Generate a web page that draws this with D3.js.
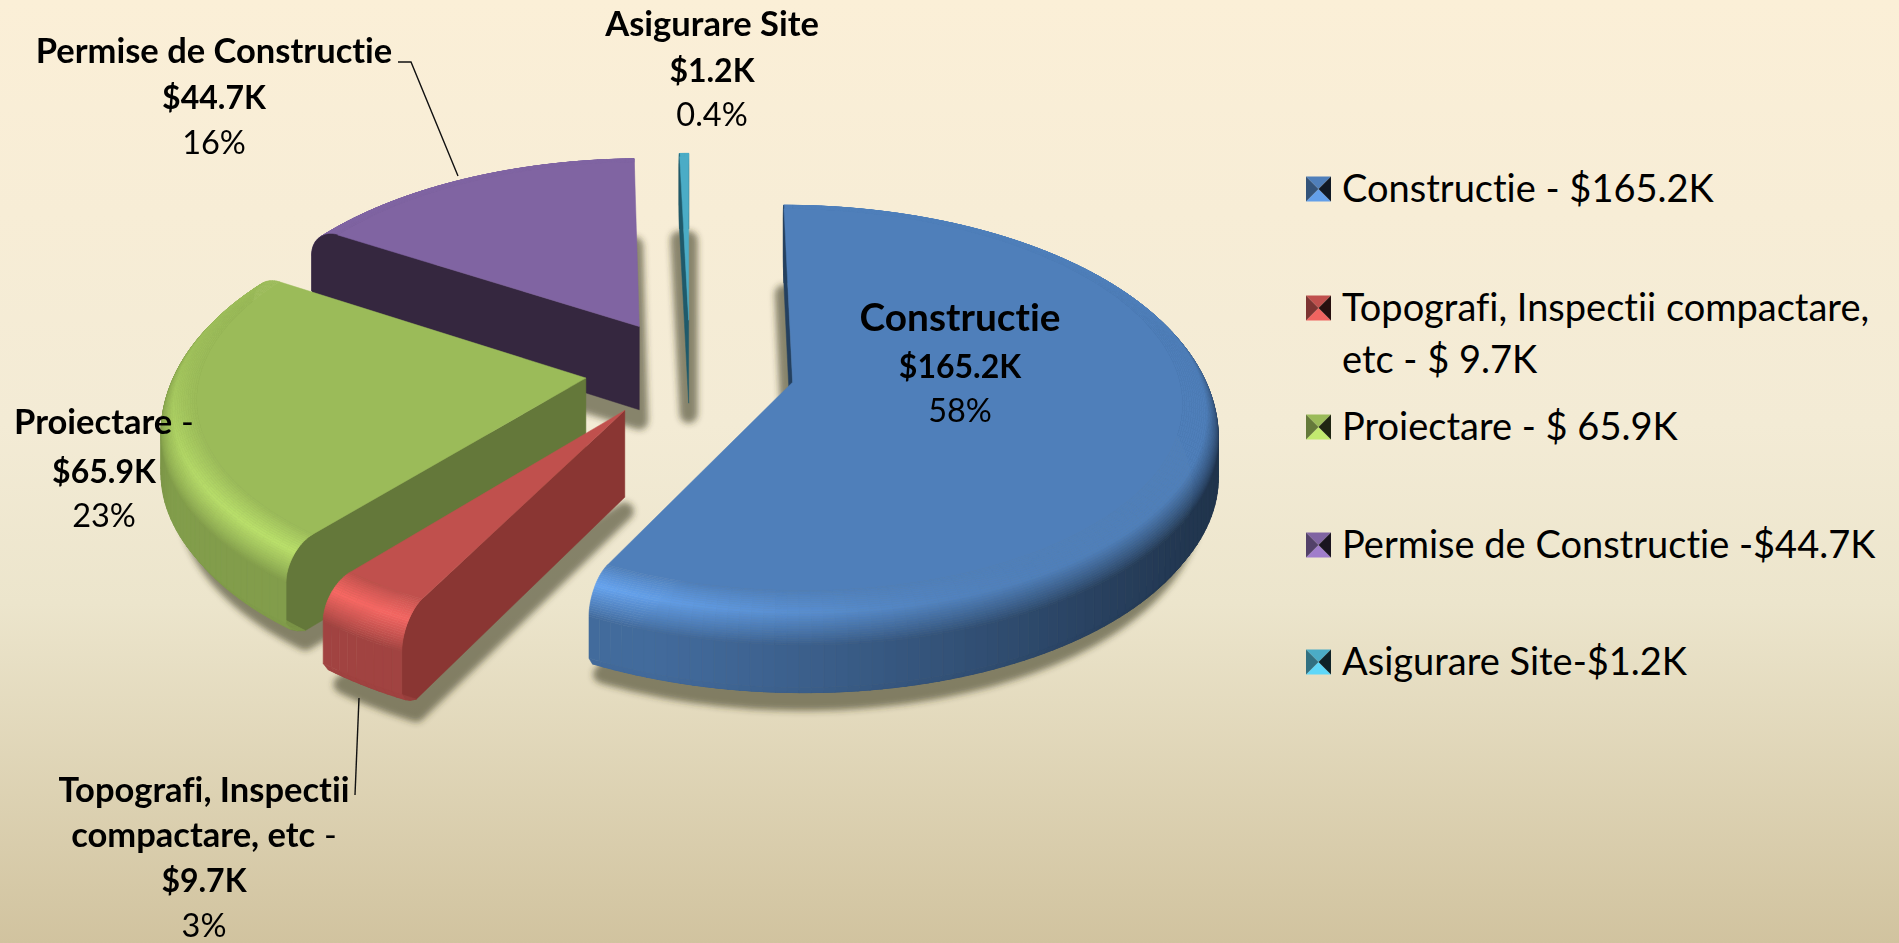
<!DOCTYPE html>
<html>
<head>
<meta charset="utf-8">
<script src="https://cdn.jsdelivr.net/npm/d3@7"></script>
<style>
  html, body { margin: 0; padding: 0; background: #f3ebd5; overflow: hidden; }
  text { font-family: Lato, "Open Sans", sans-serif; fill: #000; font-variant-ligatures: none; }
</style>
</head>
<body>
<div id="pie"></div>
<script>
// Chart values
var categories = ["Constructie", "Topografi, Inspectii compactare, etc", "Proiectare", "Permise de Constructie", "Asigurare Site"];
var values = [165.2, 9.7, 65.9, 44.7, 1.2];
var amounts = ["$165.2K", "$9.7K", "$65.9K", "$44.7K", "$1.2K"];
var percents = ["58%", "3%", "23%", "16%", "0.4%"];
var legendLabels = [
  ["Constructie - $165.2K"],
  ["Topografi, Inspectii compactare,", "etc - $ 9.7K"],
  ["Proiectare - $ 65.9K"],
  ["Permise de Constructie -$44.7K"],
  ["Asigurare Site-$1.2K"]
];

// Slice colours: top face, cut face and how much the rim highlight brightens
var topColors = ["#4f7fba", "#c0504d", "#9bbb59", "#8064a2", "#4bacc6"];
var cutColors = ["#24405f", "#8a3633", "#64783a", "#35273f", "#1f5a6b"];
var gloss = [0.33, 0.3, 0.2, 0.2, 0.2];

var width = 1899;
var height = 943;

var svg = d3.select("#pie").append("svg")
  .attr("width", width)
  .attr("height", height)
  .style("display", "block");

var defs = svg.append("defs");

// Page background
var bg = defs.append("linearGradient")
  .attr("id", "bg")
  .attr("x1", 0).attr("y1", 0).attr("x2", 0).attr("y2", 1);
[[0, "#fbefd7"], [0.45, "#f3ebd5"], [0.64, "#ece5cc"], [0.8, "#e0d6b8"], [1, "#d1c39f"]].forEach(function(s) {
  bg.append("stop").attr("offset", s[0]).attr("stop-color", s[1]);
});
svg.append("rect").attr("width", width).attr("height", height).attr("fill", "url(#bg)");

defs.append("filter").attr("id", "blur")
  .attr("x", "-10%").attr("y", "-10%").attr("width", "120%").attr("height", "120%")
  .append("feGaussianBlur").attr("stdDeviation", 3);

// Perspective set up for the tilted pie
var cx = 690;
var cy = 370;
var radius = 385;      // flat top face
var outer = 420;       // widest part of the rim
var bevel = 30;        // rim drop
var depth = 85;        // thickness
var explode = 105;
var persp = 11;
var tilt = 187;

function project(x, z, drop) {
  var n = z / radius;
  var s = persp / (persp - n);
  return [cx + x * s, cy + tilt * n * s + drop * s];
}

// Rings from the flat face down to the bottom edge
var rings = d3.range(0, 1.0001, 0.04).map(function(u) {
  var a = u * Math.PI / 2;
  return { r: radius + (outer - radius) * Math.sin(a), d: bevel * (1 - Math.cos(a)), u: u };
});
rings.push({ r: outer, d: 68, u: 1 });
rings.push({ r: 414, d: 76, u: 1.1 });
rings.push({ r: 405, d: 81, u: 1.2 });
rings.push({ r: 395, d: depth, u: 1.3 });

var pie = d3.pie().sort(null).value(function(d) { return d; });
var arcs = pie(values);

var line = d3.line();

// Slice centre after it is pulled out of the pie
function centreOf(arc) {
  var mid = (arc.startAngle + arc.endAngle) / 2;
  return [explode * Math.sin(mid), -explode * Math.cos(mid)];
}

function rimPoint(c, angle, ring) {
  return project(c[0] + ring.r * Math.sin(angle), c[1] - ring.r * Math.cos(angle), ring.d);
}

function shade(color, f) {
  var c = d3.rgb(color);
  return d3.rgb(Math.min(255, c.r * f), Math.min(255, c.g * f), Math.min(255, c.b * f)).formatHex();
}

// Light comes from the front left
function rimFactor(angle, u, shine) {
  var rl = Math.cos(angle - 225 * Math.PI / 180);
  var peak = 1 + shine * Math.pow(Math.max(0, rl), 3);
  var wall = 0.42 + 0.42 * Math.pow(Math.max(0, Math.min(1, (rl + 0.4) / 1.3)), 1.5);
  return d3.scaleLinear().domain([0, 0.45, 1, 1.3]).range([1, peak, wall, wall * 0.92]).clamp(true)(u);
}

function anglesOf(arc) {
  var n = Math.max(1, Math.ceil((arc.endAngle - arc.startAngle) / (1.5 * Math.PI / 180)));
  return d3.range(n + 1).map(function(i) {
    return arc.startAngle + (arc.endAngle - arc.startAngle) * i / n;
  });
}

// Red slice sits a little further left and up than the others
function nudge(i) {
  return i === 1 ? "translate(-6,-3)" : null;
}

// Shadows go under everything
var shadows = svg.append("g").attr("filter", "url(#blur)");
arcs.forEach(function(arc, i) {
  var c = centreOf(arc);
  var bottom = rings[rings.length - 1];
  var pts = anglesOf(arc).map(function(a) { return rimPoint(c, a, bottom); });
  pts.push(project(c[0], c[1], depth));
  shadows.append("path")
    .attr("d", line(pts) + "Z")
    .attr("transform", "translate(" + (i === 1 ? -6 : 0) + ",11)")
    .attr("fill", "#3c371e")
    .attr("stroke", "#3c371e")
    .attr("stroke-width", 18)
    .attr("stroke-linejoin", "round")
    .attr("opacity", 0.58);
});

// Cut face between the centre and the rim at one angle
function drawCut(g, c, angle, color) {
  var pts = [project(c[0], c[1], 0)];
  rings.forEach(function(ring) { pts.push(rimPoint(c, angle, ring)); });
  pts.push(project(c[0], c[1], depth));
  g.append("path")
    .attr("d", line(pts) + "Z")
    .attr("fill", color)
    .attr("stroke", color)
    .attr("stroke-width", 0.5);
}

// Back slices first, so the front ones sit on top
[3, 4, 2, 0, 1].forEach(function(i) {
  var arc = arcs[i];
  var c = centreOf(arc);
  var g = svg.append("g").attr("class", "slice").attr("transform", nudge(i));
  var angles = anglesOf(arc);
  var quads = [];

  for (var a = 0; a < angles.length - 1; a++) {
    for (var r = rings.length - 2; r >= 0; r--) {
      var mid = (angles[a] + angles[a + 1]) / 2;
      quads.push({
        order: -Math.cos(mid),
        ring: r,
        pts: [
          rimPoint(c, angles[a], rings[r]),
          rimPoint(c, angles[a + 1], rings[r]),
          rimPoint(c, angles[a + 1], rings[r + 1]),
          rimPoint(c, angles[a], rings[r + 1])
        ],
        fill: shade(topColors[i], rimFactor(mid, (rings[r].u + rings[r + 1].u) / 2, gloss[i]))
      });
    }
  }
  quads.sort(function(p, q) { return d3.ascending(p.order, q.order) || d3.ascending(q.ring, p.ring); });

  function drawQuads(list) {
    g.selectAll(null).data(list).enter().append("path")
      .attr("d", function(d) { return line(d.pts) + "Z"; })
      .attr("fill", function(d) { return d.fill; })
      .attr("stroke", function(d) { return d.fill; })
      .attr("stroke-width", 0.6);
  }

  drawQuads(quads.filter(function(d) { return d.order < 0; }));
  // Only the cut facing the viewer shows
  if (Math.sin(arc.startAngle) <= 0) drawCut(g, c, arc.startAngle, cutColors[i]);
  if (Math.sin(arc.endAngle) > 0) drawCut(g, c, arc.endAngle, cutColors[i]);
  drawQuads(quads.filter(function(d) { return d.order >= 0; }));

  // Flat top
  var topPts = [project(c[0], c[1], 0)].concat(angles.map(function(a) {
    return rimPoint(c, a, rings[0]);
  }));
  g.append("path")
    .attr("d", line(topPts) + "Z")
    .attr("fill", topColors[i])
    .attr("stroke", topColors[i])
    .attr("stroke-width", 0.5);
});

// Leader lines
[[[398, 62], [411, 62], [458, 176]], [[355, 795], [359, 698]]].forEach(function(pts) {
  svg.append("path")
    .attr("d", line(pts))
    .attr("fill", "none")
    .attr("stroke", "#111")
    .attr("stroke-width", 1.4);
});

// Data labels
var nameSize = 34.5;
var amountSize = 32;
var percentSize = 32.5;

function label(x, lines) {
  var t = svg.append("g").attr("class", "label").attr("text-anchor", "middle");
  lines.forEach(function(l) {
    var el = t.append("text")
      .attr("x", x)
      .attr("y", l.y)
      .attr("font-size", l.size)
      .attr("font-weight", l.bold ? 700 : 400)
      .text(l.text);
    if (l.dash) {
      el.append("tspan").attr("font-weight", 400).text(" -");
    }
  });
}

label(960, [
  { text: categories[0], y: 331, bold: true, size: 38.8 },
  { text: amounts[0], y: 378, bold: true, size: amountSize },
  { text: percents[0], y: 422, size: percentSize }
]);
label(712, [
  { text: categories[4], y: 36, bold: true, size: nameSize },
  { text: amounts[4], y: 82, bold: true, size: amountSize },
  { text: percents[4], y: 126, size: percentSize }
]);
label(214, [
  { text: categories[3], y: 63, bold: true, size: nameSize },
  { text: amounts[3], y: 109, bold: true, size: amountSize },
  { text: percents[3], y: 154, size: percentSize }
]);
label(104, [
  { text: categories[2], y: 434, bold: true, dash: true, size: nameSize },
  { text: amounts[2], y: 483, bold: true, size: amountSize },
  { text: percents[2], y: 527, size: percentSize }
]);
label(204, [
  { text: "Topografi, Inspectii", y: 802, bold: true, size: nameSize },
  { text: "compactare, etc", y: 847, bold: true, dash: true, size: nameSize },
  { text: amounts[1], y: 892, bold: true, size: amountSize },
  { text: percents[1], y: 937, size: percentSize }
]);

// Legend
var legendTop = [189, 308, 427, 545, 662];
var legendLine = 52;
var box = 25;

legendLabels.forEach(function(lines, i) {
  var g = svg.append("g")
    .attr("class", "legend")
    .attr("transform", "translate(1306," + (legendTop[i] - box / 2) + ")");
  var base = topColors[i];
  // little pyramid key
  [
    { pts: [[0, 0], [box, 0], [box / 2, box / 2]], f: 1.0 },
    { pts: [[0, box], [box, box], [box / 2, box / 2]], f: 1.25 },
    { pts: [[0, 0], [0, box], [box / 2, box / 2]], f: 0.65 },
    { pts: [[box, 0], [box, box], [box / 2, box / 2]], f: 0.2 }
  ].forEach(function(p) {
    g.append("path").attr("d", line(p.pts) + "Z").attr("fill", shade(base, p.f));
  });
  lines.forEach(function(l, j) {
    g.append("text")
      .attr("x", 36)
      .attr("y", box / 2 + 13 + j * legendLine)
      .attr("font-size", 38)
      .text(l);
  });
});
</script>
</body>
</html>
